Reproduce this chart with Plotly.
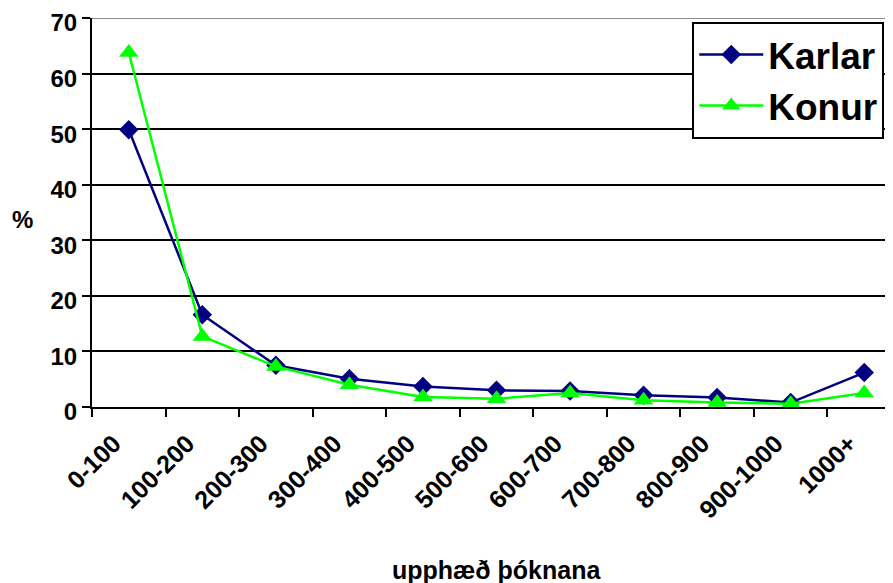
import plotly.graph_objects as go

categories = ["0-100", "100-200", "200-300", "300-400", "400-500", "500-600",
              "600-700", "700-800", "800-900", "900-1000", "1000+"]
karlar = [49.9, 16.6, 7.5, 5.1, 3.7, 3.0, 2.9, 2.1, 1.7, 0.8, 6.2]
konur = [63.8, 12.7, 7.3, 4.0, 1.8, 1.5, 2.5, 1.2, 0.8, 0.6, 2.5]
y_ticks = [0, 10, 20, 30, 40, 50, 60, 70]

FONT = "Arial, Liberation Sans, sans-serif"

fig = go.Figure()
fig.add_trace(go.Scatter(
    x=categories, y=karlar, name="Karlar", mode="lines+markers", legendgroup="k",
    line=dict(color="#000080", width=2.5),
    marker=dict(symbol="diamond", size=15, color="#000080"),
))
fig.add_trace(go.Scatter(
    x=categories, y=konur, name="Konur", mode="lines+markers", legendgroup="w",
    line=dict(color="#00FF00", width=2.5),
    marker=dict(symbol="triangle-up", size=17, color="#00FF00"),
))

# top border of the plot area drawn in grey like the reference
fig.add_shape(type="line", xref="paper", yref="y", x0=0, x1=1, y0=70, y1=70,
              line=dict(color="#8c8c8c", width=2), layer="above")

fig.update_layout(
    width=893, height=583,
    margin=dict(l=84, r=0, t=10, b=184),
    paper_bgcolor="white", plot_bgcolor="white",
    font=dict(family=FONT, color="black"),
    showlegend=True,
    legend=dict(
        x=0.742, y=0.99, xanchor="left", yanchor="top",
        bordercolor="black", borderwidth=2, bgcolor="white",
        font=dict(family=FONT, size=37, color="black", weight="bold"),
        itemwidth=64, tracegroupgap=0,
    ),
    xaxis=dict(
        type="category",
        range=[-0.5, 10.5],
        tickangle=-45, tickson="boundaries",
        ticks="outside", ticklen=8, tickwidth=2, tickcolor="black",
        ticklabelstandoff=10, ticklabelshift=-15,
        showline=True, linecolor="black", linewidth=2,
        showgrid=False, zeroline=False, automargin=False,
        tickfont=dict(family=FONT, size=25, color="black", weight="bold"),
    ),
    yaxis=dict(
        range=[0, 70],
        tickmode="array", tickvals=y_ticks,
        ticks="outside", ticklen=8, tickwidth=2, tickcolor="black",
        ticklabeloverflow="allow", ticklabelshift=5,
        showline=True, linecolor="black", linewidth=2,
        showgrid=True, gridcolor="black", gridwidth=2,
        zeroline=False, automargin=False,
        tickfont=dict(family=FONT, size=24, color="black", weight="bold"),
    ),
    annotations=[
        dict(text="%", xref="paper", yref="paper", x=-0.0865, y=0.483,
             xanchor="center", yanchor="middle", showarrow=False,
             font=dict(family=FONT, size=24, color="black", weight="bold")),
        dict(text="upphæð þóknana", xref="paper", yref="paper", x=0.5006, y=-0.419,
             xanchor="center", yanchor="middle", showarrow=False,
             font=dict(family=FONT, size=25, color="black", weight="bold")),
    ],
)

fig.write_html("out.html")
